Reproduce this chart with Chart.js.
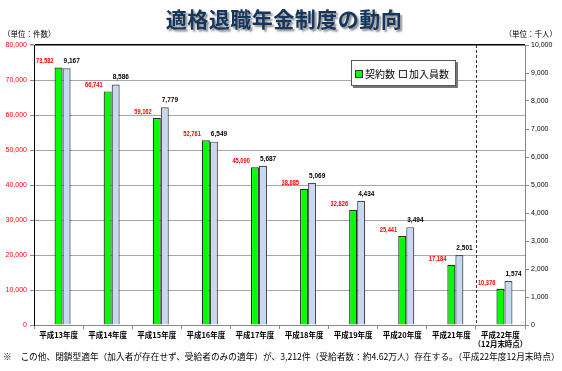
<!DOCTYPE html>
<html>
<head>
<meta charset="utf-8">
<script src="https://cdn.jsdelivr.net/npm/chart.js@4.4.0/dist/chart.umd.min.js"></script>
<style>
  body { margin: 0; background: #fff; }
  #wrap { position: relative; width: 562px; height: 371px; overflow: hidden; font-family: "Noto Sans CJK JP", sans-serif; }
  #chart { position: absolute; left: 0; top: 0; }
  .txt { position: absolute; white-space: nowrap; }
  #title { left: 0; width: 568px; top: 3px; text-align: center; font-size: 21px; font-weight: bold; color: #17365D; text-shadow: 2px 2px 2px rgba(0,0,0,0.45); letter-spacing: 0.5px; }
  #unitL { left: 3px; top: 28px; font-size: 7.5px; color: #000; }
  #unitR { right: 5px; top: 28px; font-size: 7.5px; color: #000; }
  #note { left: 3px; top: 350px; font-size: 8.7px; color: #000; }
  #legend { position: absolute; left: 351px; top: 60px; width: 105px; height: 26px; border: 1px solid #555; background: #fff; box-shadow: 2px 2px 0 #777; font-size: 10px; display: flex; align-items: center; padding-left: 3px; box-sizing: border-box; white-space: nowrap; }
  #legend .sw { display: inline-block; width: 6px; height: 6px; border: 1px solid #333; margin-right: 2px; vertical-align: middle; position: relative; top: -1px; }
  #legend .item { margin-right: 4px; white-space: nowrap; }
</style>
</head>
<body>
<div id="wrap">
  <canvas id="chart" width="562" height="371"></canvas>
  <div id="title" class="txt">適格退職年金制度の動向</div>
  <div id="unitL" class="txt">（単位：件数）</div>
  <div id="unitR" class="txt">（単位：千人）</div>
  <div id="legend"></div>
  <div id="note" class="txt">※　この他、閉鎖型適年（加入者が存在せず、受給者のみの適年）が、3,212件（受給者数：約4.62万人）存在する。（平成22年度12月末時点）</div>
</div>
<script>
// Data
const years = ['平成13年度', '平成14年度', '平成15年度', '平成16年度', '平成17年度',
               '平成18年度', '平成19年度', '平成20年度', '平成21年度', ['平成22年度', '（12月末時点）']];
const contracts = [73582, 66741, 59162, 52761, 45090, 38885, 32826, 25441, 17184, 10376];
const members = [9167, 8586, 7779, 6549, 5687, 5069, 4434, 3494, 2501, 1574];
const leftTicks = [0, 10000, 20000, 30000, 40000, 50000, 60000, 70000, 80000];
const rightTicks = [0, 1000, 2000, 3000, 4000, 5000, 6000, 7000, 8000, 9000, 10000];

const fmt = v => v.toLocaleString('en-US');

// value labels above bars
const valueLabels = {
    id: 'valueLabels',
    afterDatasetsDraw(chart) {
        const ctx = chart.ctx;
        chart.data.datasets.forEach((ds, i) => {
            if (!ds.labelStyle) return;
            const meta = chart.getDatasetMeta(i);
            meta.data.forEach((el, j) => {
                ctx.save();
                ctx.textBaseline = 'middle';
                ctx.fillStyle = ds.labelStyle.color;
                if (ds.labelStyle.side === 'left') {
                    // red labels are squeezed a bit, as in the original
                    ctx.font = 'bold 7px "Liberation Sans"';
                    ctx.translate(el.x - el.width / 2 - 1, el.y - 6);
                    ctx.scale(0.82, 1);
                    ctx.textAlign = 'right';
                    ctx.fillText(fmt(ds.data[j]), 0, 0);
                } else {
                    ctx.font = 'bold 6.5px "Liberation Sans"';
                    ctx.textAlign = 'left';
                    ctx.fillText(fmt(ds.data[j]), el.x - el.width / 2 + 1, el.y - 7);
                }
                ctx.restore();
            });
        });
    }
};

// dashed separator before the last category
const separator = {
    id: 'separator',
    afterDatasetsDraw(chart) {
        const x = chart.scales.x;
        const area = chart.chartArea;
        const n = years.length;
        const px = Math.round((x.getPixelForValue(n - 2) + x.getPixelForValue(n - 1)) / 2) + 0.5;
        const ctx = chart.ctx;
        ctx.save();
        ctx.strokeStyle = '#333';
        ctx.lineWidth = 1;
        ctx.setLineDash([3, 2]);
        ctx.beginPath();
        ctx.moveTo(px, area.top);
        ctx.lineTo(px, area.bottom);
        ctx.stroke();
        ctx.restore();
    }
};

const ctx = document.getElementById('chart').getContext('2d');
const chart = new Chart(ctx, {
    type: 'bar',
    data: {
        labels: years,
        datasets: [{
            // empty slot, shifts the pair right like the original
            label: '',
            data: years.map(() => null),
            yAxisID: 'y'
        }, {
            label: '契約数',
            data: contracts,
            yAxisID: 'y',
            backgroundColor: '#00FF00',
            borderColor: '#2A2A2A',
            borderWidth: 1.2,
            labelStyle: { color: '#FF0000', side: 'left' }
        }, {
            label: '加入員数',
            data: members,
            yAxisID: 'y1',
            backgroundColor: '#C6D9F1',
            borderColor: '#4A4A4A',
            borderWidth: 1.2,
            labelStyle: { color: '#000000', side: 'right' }
        }]
    },
    options: {
        responsive: false,
        animation: false,
        categoryPercentage: 0.49,
        barPercentage: 1.0,
        layout: { padding: { top: 45, left: 0, right: 0, bottom: 0 } },
        plugins: {
            legend: { display: false },
            tooltip: { enabled: false }
        },
        scales: {
            x: {
                afterFit(scale) { scale.height = 46; },
                border: { color: '#888', width: 1 },
                grid: { drawOnChartArea: false, tickLength: 4, color: '#888' },
                ticks: {
                    color: '#000',
                    font: { family: '"Noto Sans CJK JP"', size: 7.5, weight: 'bold', lineHeight: 1.2 },
                    padding: 2,
                    maxRotation: 0,
                    autoSkip: false
                }
            },
            y: {
                position: 'left',
                min: 0,
                max: 80000,
                afterFit(scale) { scale.width = 34; },
                afterBuildTicks(scale) { scale.ticks = leftTicks.map(v => ({ value: v })); },
                border: { color: '#000', width: 1 },
                grid: {
                    color: c => c.tick && c.tick.value === 80000 ? '#000' : '#A6A6A6',
                    lineWidth: c => c.tick && c.tick.value === 80000 ? 1.5 : 1,
                    tickColor: '#888',
                    tickLength: 4
                },
                ticks: {
                    color: '#FF0000',
                    font: { family: '"Liberation Sans"', size: 7 },
                    padding: 3,
                    callback: v => fmt(v)
                }
            },
            y1: {
                position: 'right',
                min: 0,
                max: 10000,
                afterFit(scale) { scale.width = 37; },
                afterBuildTicks(scale) { scale.ticks = rightTicks.map(v => ({ value: v })); },
                border: { color: '#888', width: 1 },
                grid: { drawOnChartArea: false, tickLength: 4, color: '#888' },
                ticks: {
                    color: '#000',
                    font: { family: '"Liberation Sans"', size: 7 },
                    padding: 2,
                    callback: v => fmt(v)
                }
            }
        }
    },
    plugins: [valueLabels, separator]
});

// legend box built from the datasets
const legend = document.getElementById('legend');
chart.data.datasets.forEach(ds => {
    if (!ds.label) return;
    const item = document.createElement('span');
    item.className = 'item';
    const sw = document.createElement('span');
    sw.className = 'sw';
    sw.style.background = ds.label === '加入員数' ? '#EEF3FA' : ds.backgroundColor;
    item.appendChild(sw);
    item.appendChild(document.createTextNode(ds.label));
    legend.appendChild(item);
});
</script>
</body>
</html>
